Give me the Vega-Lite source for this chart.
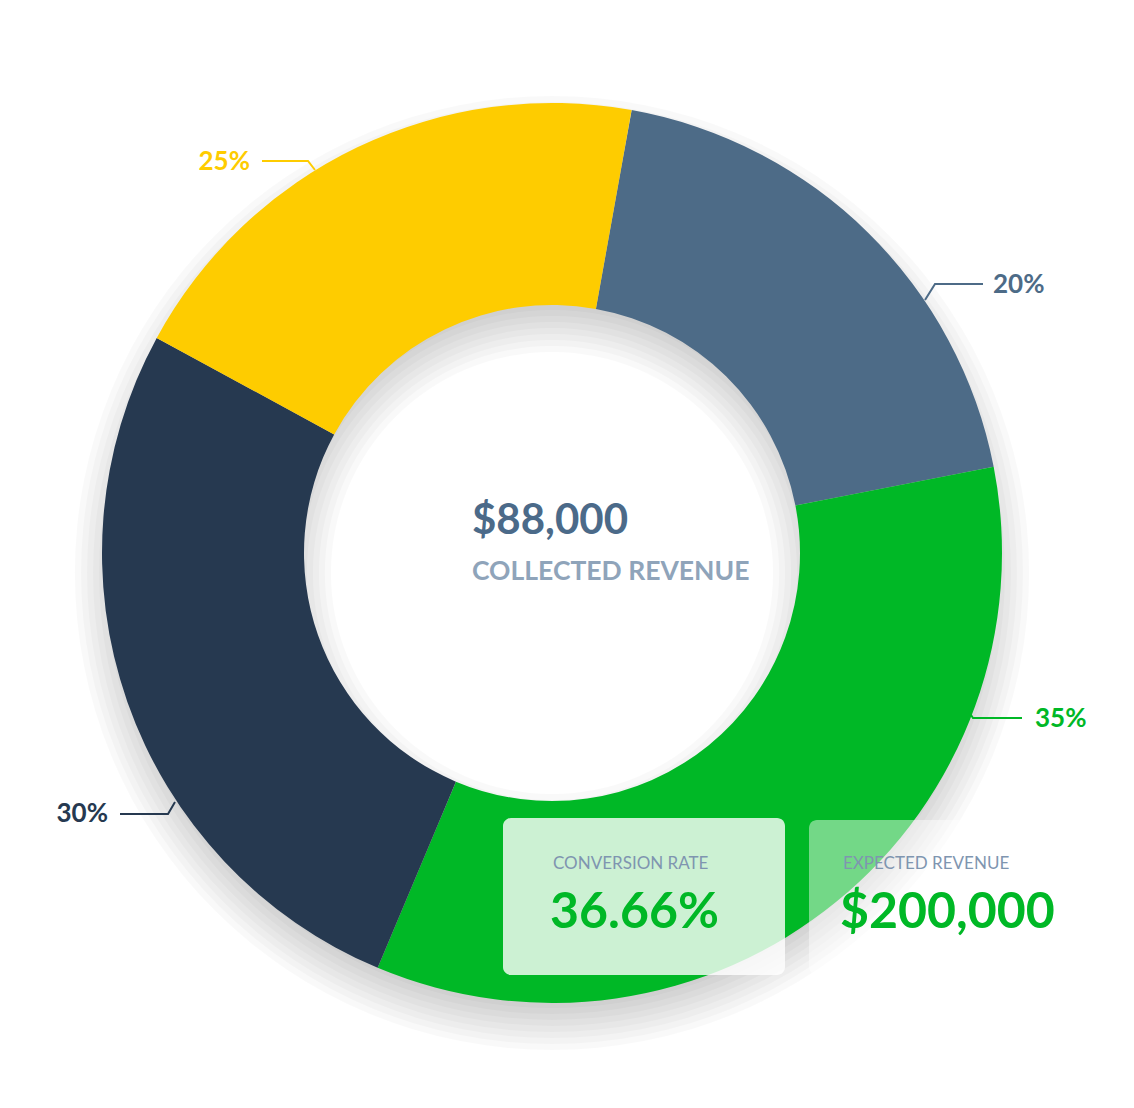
{
  "$schema": "https://vega.github.io/schema/vega-lite/v6.json",
  "width": 1134,
  "height": 1108,
  "padding": 0,
  "autosize": {"type": "fit", "contains": "padding"},
  "background": "white",
  "config": {"view": {"stroke": null}, "text": {"font": "Lato"}},
  "datasets": {
    "origin": [{"ring": "donut", "x": 0, "y": 0}],
    "slices": [
      {"ring": "donut", "label": "20%", "idx": 1, "share": 19.1},
      {"ring": "donut", "label": "35%", "idx": 2, "share": 34.4},
      {"ring": "donut", "label": "30%", "idx": 3, "share": 26.6},
      {"ring": "donut", "label": "25%", "idx": 4, "share": 19.9}
    ],
    "leaders": [
      {"label": "25%", "step": 1, "x": -290, "y": 392},
      {"label": "25%", "step": 2, "x": -244, "y": 392},
      {"label": "25%", "step": 3, "x": -237, "y": 383},
      {"label": "20%", "step": 1, "x": 431, "y": 269},
      {"label": "20%", "step": 2, "x": 383, "y": 269},
      {"label": "20%", "step": 3, "x": 373, "y": 253},
      {"label": "35%", "step": 1, "x": 470, "y": -165},
      {"label": "35%", "step": 2, "x": 421, "y": -165},
      {"label": "35%", "step": 3, "x": 417, "y": -159},
      {"label": "30%", "step": 1, "x": -432, "y": -261},
      {"label": "30%", "step": 2, "x": -384, "y": -261},
      {"label": "30%", "step": 3, "x": -377, "y": -249}
    ],
    "sliceLabels": [
      {"label": "25%", "side": "left", "x": -302, "y": 383},
      {"label": "20%", "side": "right", "x": 441, "y": 260},
      {"label": "35%", "side": "right", "x": 483, "y": -174},
      {"label": "30%", "side": "left", "x": -444, "y": -269}
    ],
    "boxes": [
      {"box": "conversion", "x": -49, "x2": 233, "y": -265, "y2": -422},
      {"box": "expected", "x": 257, "x2": 535, "y": -267, "y2": -422}
    ],
    "texts": [
      {"role": "centerValue", "text": "$88,000", "x": -80, "y": 19},
      {"role": "centerCaption", "text": "COLLECTED REVENUE", "x": -80, "y": -27},
      {"role": "boxCaption", "text": "CONVERSION RATE", "x": 1, "y": -316},
      {"role": "boxValue", "text": "36.66%", "x": -2, "y": -375},
      {"role": "boxCaption", "text": "EXPECTED REVENUE", "x": 291, "y": -316},
      {"role": "boxValue", "text": "$200,000", "x": 288, "y": -375}
    ]
  },
  "encoding": {
    "x": {"field": "x", "type": "quantitative", "axis": null, "scale": {"domain": [-552, 582], "nice": false, "zero": false}},
    "y": {"field": "y", "type": "quantitative", "axis": null, "scale": {"domain": [-555, 553], "nice": false, "zero": false}}
  },
  "layer": [
    {"data": {"name": "origin"}, "mark": {"type": "arc", "theta": 0, "theta2": 6.2832, "innerRadius": 275, "outerRadius": 423, "color": "black", "opacity": 0.025}, "encoding": {"y": {"datum": -20}}},
    {"data": {"name": "origin"}, "mark": {"type": "arc", "theta": 0, "theta2": 6.2832, "innerRadius": 269, "outerRadius": 429, "color": "black", "opacity": 0.025}, "encoding": {"y": {"datum": -20}}},
    {"data": {"name": "origin"}, "mark": {"type": "arc", "theta": 0, "theta2": 6.2832, "innerRadius": 263, "outerRadius": 435, "color": "black", "opacity": 0.025}, "encoding": {"y": {"datum": -20}}},
    {"data": {"name": "origin"}, "mark": {"type": "arc", "theta": 0, "theta2": 6.2832, "innerRadius": 257, "outerRadius": 441, "color": "black", "opacity": 0.025}, "encoding": {"y": {"datum": -20}}},
    {"data": {"name": "origin"}, "mark": {"type": "arc", "theta": 0, "theta2": 6.2832, "innerRadius": 251, "outerRadius": 447, "color": "black", "opacity": 0.025}, "encoding": {"y": {"datum": -20}}},
    {"data": {"name": "origin"}, "mark": {"type": "arc", "theta": 0, "theta2": 6.2832, "innerRadius": 245, "outerRadius": 453, "color": "black", "opacity": 0.025}, "encoding": {"y": {"datum": -20}}},
    {"data": {"name": "origin"}, "mark": {"type": "arc", "theta": 0, "theta2": 6.2832, "innerRadius": 239, "outerRadius": 459, "color": "black", "opacity": 0.025}, "encoding": {"y": {"datum": -20}}},
    {"data": {"name": "origin"}, "mark": {"type": "arc", "theta": 0, "theta2": 6.2832, "innerRadius": 233, "outerRadius": 465, "color": "black", "opacity": 0.025}, "encoding": {"y": {"datum": -20}}},
    {"data": {"name": "origin"}, "mark": {"type": "arc", "theta": 0, "theta2": 6.2832, "innerRadius": 227, "outerRadius": 471, "color": "black", "opacity": 0.025}, "encoding": {"y": {"datum": -20}}},
    {"data": {"name": "origin"}, "mark": {"type": "arc", "theta": 0, "theta2": 6.2832, "innerRadius": 221, "outerRadius": 477, "color": "black", "opacity": 0.025}, "encoding": {"y": {"datum": -20}}},
    {
      "data": {"name": "slices"},
      "transform": [
        {"lookup": "ring", "from": {"data": {"name": "origin"}, "key": "ring", "fields": ["x", "y"]}},
        {"stack": "share", "groupby": [], "sort": [{"field": "idx"}], "as": ["t0", "t1"]}
      ],
      "mark": {"type": "arc", "innerRadius": 248, "outerRadius": 450},
      "encoding": {
        "theta": {"field": "t0", "type": "quantitative", "scale": {"domain": [0, 100], "range": [0.178, 6.461]}},
        "theta2": {"field": "t1"},
        "color": {
          "field": "label",
          "type": "nominal",
          "legend": null,
          "scale": {"domain": ["20%", "35%", "30%", "25%"], "range": ["#4d6b87", "#00b826", "#263950", "#fecc00"]}
        }
      }
    },
    {
      "data": {"name": "leaders"},
      "mark": {"type": "line", "strokeWidth": 2},
      "encoding": {
        "color": {"field": "label", "type": "nominal", "legend": null},
        "detail": {"field": "label"},
        "order": {"field": "step"}
      }
    },
    {
      "data": {"name": "sliceLabels"},
      "transform": [{"filter": "datum.side == 'left'"}],
      "mark": {"type": "text", "align": "right", "baseline": "alphabetic", "fontSize": 26, "fontWeight": "bold"},
      "encoding": {
        "text": {"field": "label"},
        "color": {"field": "label", "type": "nominal", "legend": null}
      }
    },
    {
      "data": {"name": "sliceLabels"},
      "transform": [{"filter": "datum.side == 'right'"}],
      "mark": {"type": "text", "align": "left", "baseline": "alphabetic", "fontSize": 26, "fontWeight": "bold"},
      "encoding": {
        "text": {"field": "label"},
        "color": {"field": "label", "type": "nominal", "legend": null}
      }
    },
    {
      "data": {"name": "texts"},
      "transform": [{"filter": "datum.role == 'centerValue'"}],
      "mark": {"type": "text", "align": "left", "baseline": "alphabetic", "fontSize": 42, "fontWeight": "bold", "color": "#4b6a89"},
      "encoding": {"text": {"field": "text"}}
    },
    {
      "data": {"name": "texts"},
      "transform": [{"filter": "datum.role == 'centerCaption'"}],
      "mark": {"type": "text", "align": "left", "baseline": "alphabetic", "fontSize": 26.5, "fontWeight": "bold", "color": "#8fa4ba"},
      "encoding": {"text": {"field": "text"}}
    },
    {
      "data": {"name": "boxes"},
      "mark": {"type": "rect", "cornerRadius": 8, "color": "white"},
      "encoding": {
        "x2": {"field": "x2"},
        "y2": {"field": "y2"},
        "opacity": {"field": "box", "type": "nominal", "legend": null, "scale": {"domain": ["conversion", "expected"], "range": [0.8, 0.45]}}
      }
    },
    {
      "data": {"name": "texts"},
      "transform": [{"filter": "datum.role == 'boxCaption'"}],
      "mark": {"type": "text", "align": "left", "baseline": "alphabetic", "fontSize": 17, "color": "#7f95b0"},
      "encoding": {"text": {"field": "text"}}
    },
    {
      "data": {"name": "texts"},
      "transform": [{"filter": "datum.role == 'boxValue'"}],
      "mark": {"type": "text", "align": "left", "baseline": "alphabetic", "fontSize": 50, "fontWeight": "bold", "color": "#00b826"},
      "encoding": {"text": {"field": "text"}}
    }
  ]
}
